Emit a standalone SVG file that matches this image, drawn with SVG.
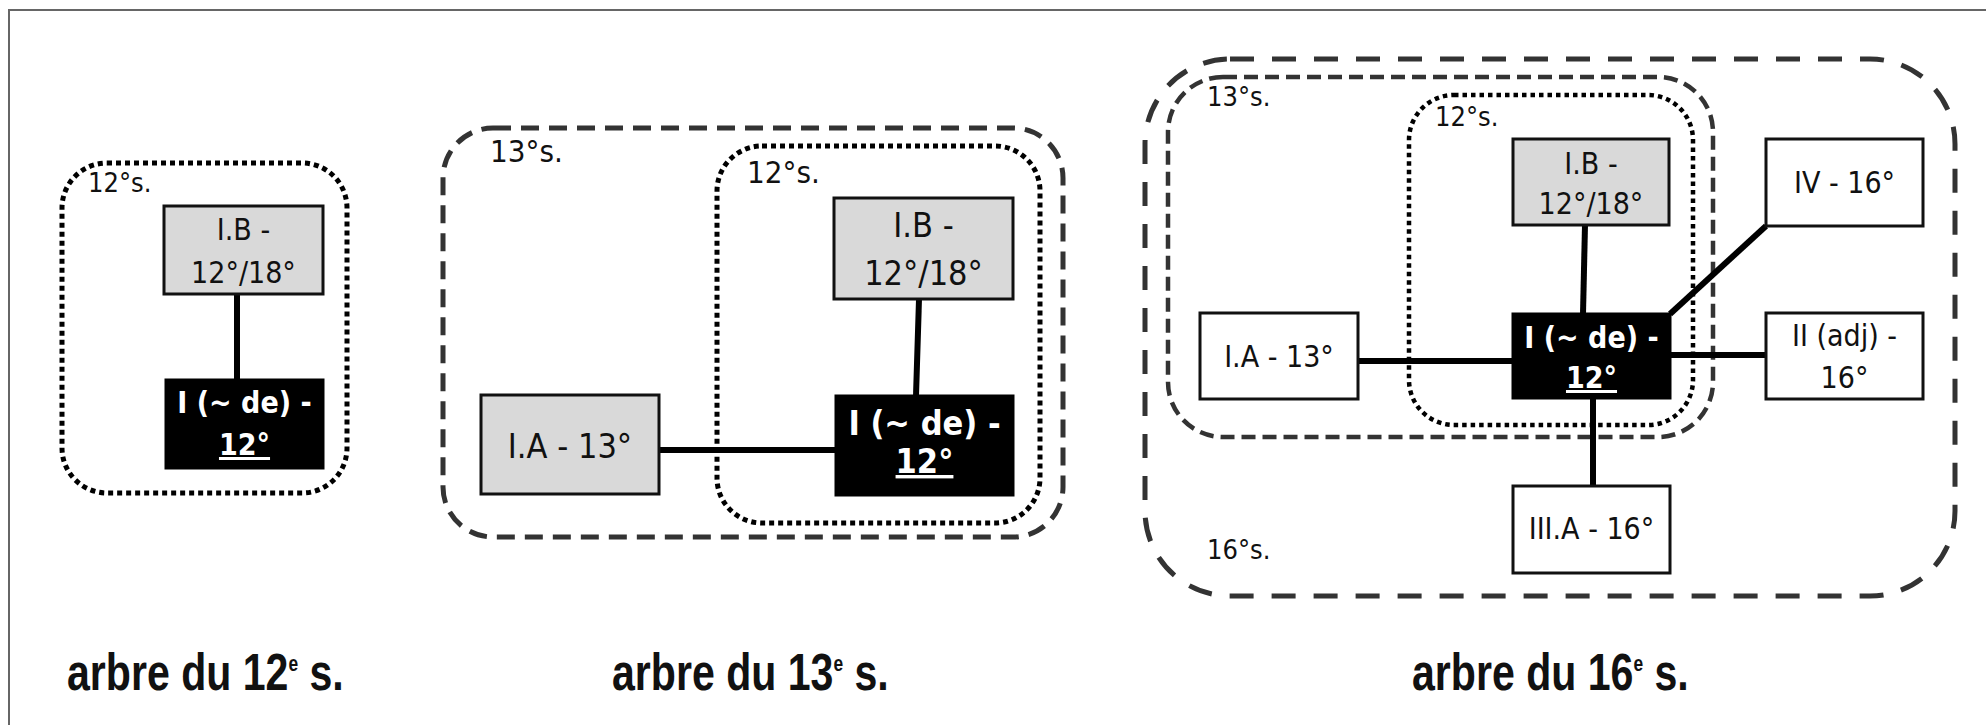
<svg xmlns="http://www.w3.org/2000/svg" width="1986" height="725" viewBox="0 0 1986 725">
<style>
text{font-family:"DejaVu Sans Condensed","DejaVu Sans","Liberation Sans",sans-serif;font-stretch:condensed;fill:#111}
.lbl{font-size:27px}
.lbl2{font-size:31px}
.t1{font-size:30px;text-anchor:middle}
.t2{font-size:34px;text-anchor:middle}
.t3{font-size:30px;text-anchor:middle}
.w{fill:#fff;font-weight:bold}
.cap{font-family:"Liberation Sans",Arial,sans-serif;font-stretch:normal;font-weight:bold;font-size:52px}
.grey{fill:#d9d9d9;stroke:#111;stroke-width:3}
.white{fill:#fff;stroke:#111;stroke-width:3}
.black{fill:#000;stroke:#000;stroke-width:3}
.dot{fill:none;stroke:#000;stroke-width:5;stroke-dasharray:5 4}
.dash{fill:none;stroke:#333;stroke-width:5;stroke-dasharray:18 10}
.dashbig{fill:none;stroke:#333;stroke-width:5;stroke-dasharray:24 18}
.conn line{stroke:#000;stroke-width:6;stroke-linecap:butt}
</style>
<rect width="1986" height="725" fill="#fff"/>
<path d="M9,725 V10 H1986" fill="none" stroke="#666" stroke-width="2"/>

<!-- Panel 1 -->
<g id="p1-region12">
<rect class="dot" x="62" y="163" width="285" height="330" rx="45"/>
<text class="lbl" x="88" y="192">12°s.</text>
</g>
<g class="conn" id="p1-connectors">
<line x1="237" y1="294" x2="237" y2="380"/>
</g>
<g id="p1-IB">
<rect class="grey" x="164" y="206" width="159" height="88"/>
<text class="t1" x="243.5" y="240">I.B -</text>
<text class="t1" x="243.5" y="283">12°/18°</text>
</g>
<g id="p1-I">
<rect class="black" x="166" y="380" width="157" height="88"/>
<text class="t1 w" x="244.5" y="413">I (~ de) -</text>
<text class="t1 w" x="244.5" y="455" text-decoration="underline">12°</text>
</g>
<g id="caption1" transform="translate(67,690) scale(0.79,1)">
<text class="cap" x="0" y="0">arbre du 12<tspan font-size="22" dy="-19">e</tspan><tspan dy="19"> s.</tspan></text>
</g>

<!-- Panel 2 -->
<g id="p2-region13">
<rect class="dash" x="443" y="128" width="620" height="409" rx="50"/>
<text class="lbl2" x="490" y="162">13°s.</text>
</g>
<g id="p2-region12">
<rect class="dot" x="717" y="146" width="323" height="377" rx="45"/>
<text class="lbl2" x="747" y="183">12°s.</text>
</g>
<g class="conn" id="p2-connectors">
<line x1="659" y1="450" x2="836" y2="450"/>
<line x1="919" y1="299" x2="916" y2="396"/>
</g>
<g id="p2-IA">
<rect class="grey" x="481" y="395" width="178" height="99"/>
<text class="t2" x="570" y="458">I.A - 13°</text>
</g>
<g id="p2-IB">
<rect class="grey" x="834" y="198" width="179" height="101"/>
<text class="t2" x="923.5" y="237">I.B -</text>
<text class="t2" x="923.5" y="285">12°/18°</text>
</g>
<g id="p2-I">
<rect class="black" x="836" y="396" width="177" height="99"/>
<text class="t2 w" x="924.5" y="435">I (~ de) -</text>
<text class="t2 w" x="924.5" y="473" text-decoration="underline">12°</text>
</g>
<g id="caption2" transform="translate(612,690) scale(0.79,1)">
<text class="cap" x="0" y="0">arbre du 13<tspan font-size="22" dy="-19">e</tspan><tspan dy="19"> s.</tspan></text>
</g>

<!-- Panel 3 -->
<g id="p3-region16">
<rect class="dashbig" x="1145" y="59" width="810" height="537" rx="85"/>
<text class="lbl" x="1207" y="559">16°s.</text>
</g>
<g id="p3-region13">
<rect class="dash" x="1168" y="77" width="545" height="360" rx="55" style="stroke-width:4.5;stroke-dasharray:14 7"/>
<text class="lbl" x="1207" y="106">13°s.</text>
</g>
<g id="p3-region12">
<rect class="dot" x="1409" y="95" width="284" height="330" rx="45" style="stroke-width:4.5;stroke-dasharray:4.5 4"/>
<text class="lbl" x="1435" y="126">12°s.</text>
</g>
<g class="conn" id="p3-connectors">
<line x1="1358" y1="361" x2="1513" y2="361"/>
<line x1="1585" y1="225" x2="1583" y2="314"/>
<line x1="1670" y1="314" x2="1766" y2="226"/>
<line x1="1670" y1="355" x2="1766" y2="355"/>
<line x1="1593" y1="398" x2="1593" y2="486"/>
</g>
<g id="p3-IA">
<rect class="white" x="1200" y="313" width="158" height="86"/>
<text class="t3" x="1279" y="367">I.A - 13°</text>
</g>
<g id="p3-IB">
<rect class="grey" x="1513" y="139" width="156" height="86"/>
<text class="t3" x="1591" y="174">I.B -</text>
<text class="t3" x="1591" y="214">12°/18°</text>
</g>
<g id="p3-I">
<rect class="black" x="1513" y="314" width="157" height="84"/>
<text class="t3 w" x="1591.5" y="348">I (~ de) -</text>
<text class="t3 w" x="1591.5" y="388" text-decoration="underline">12°</text>
</g>
<g id="p3-IV">
<rect class="white" x="1766" y="139" width="157" height="87"/>
<text class="t3" x="1844.5" y="193">IV - 16°</text>
</g>
<g id="p3-II">
<rect class="white" x="1766" y="313" width="157" height="86"/>
<text class="t3" x="1844.5" y="346">II (adj) -</text>
<text class="t3" x="1844.5" y="388">16°</text>
</g>
<g id="p3-IIIA">
<rect class="white" x="1513" y="486" width="157" height="87"/>
<text class="t3" x="1591.5" y="539">III.A - 16°</text>
</g>
<g id="caption3" transform="translate(1412,690) scale(0.79,1)">
<text class="cap" x="0" y="0">arbre du 16<tspan font-size="22" dy="-19">e</tspan><tspan dy="19"> s.</tspan></text>
</g>
</svg>
